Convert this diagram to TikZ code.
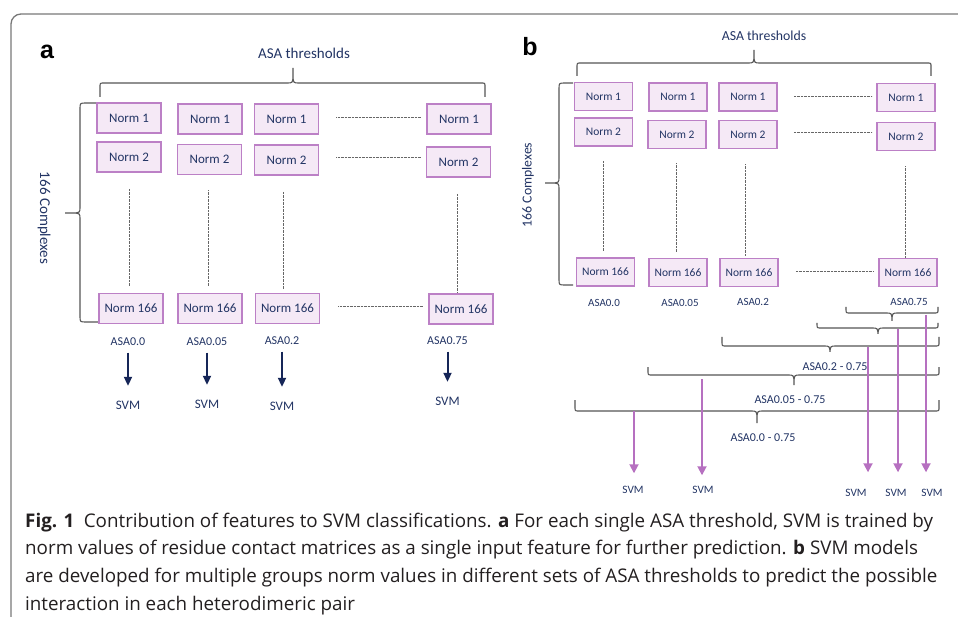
\documentclass[tikz,border=0pt]{standalone}
\usepackage{fontspec}
\setmainfont{Carlito}
\newfontfamily\lblfont{Liberation Sans}
\newfontfamily\capfont{Open Sans}
\usetikzlibrary{arrows.meta,calc}
\definecolor{txt}{RGB}{34,52,100}
\definecolor{boxedge}{RGB}{188,128,198}
\definecolor{boxfill}{RGB}{245,233,246}
\definecolor{navy}{RGB}{22,38,88}
\definecolor{pinkarr}{RGB}{182,112,192}
\definecolor{bracegray}{RGB}{85,85,85}
\definecolor{framegray}{RGB}{120,120,120}
\definecolor{captxt}{RGB}{35,31,32}
% #1 x1, #2 x2, #3 y, #4 yend, #5 xtip, #6 ytip, #7 direction of tip (+1 down, -1 up)
\newcommand\myhbrace[7]{%
 \draw[brc] (#1,#4) -- (#1,{#3-4*(#7)}) .. controls (#1,#3) .. ({#1+4},#3) -- ({#5-5},#3) .. controls ({#5-1},#3) and (#5,{#3+1*(#7)}) .. (#5,{#3+4*(#7)}) -- (#5,#6);
 \draw[brc] (#5,{#3+4*(#7)}) .. controls (#5,{#3+1*(#7)}) and ({#5+1},#3) .. ({#5+5},#3) -- ({#2-4},#3) .. controls (#2,#3) .. (#2,{#3-4*(#7)}) -- (#2,#4);}
% #1 y1, #2 y2, #3 x, #4 xend, #5 ytip, #6 xtip, #7 direction of tip (+1 right, -1 left)
\newcommand\myvbrace[7]{%
 \draw[brc] (#4,#1) -- ({#3-6*(#7)},#1) .. controls (#3,#1) .. (#3,{#1+6}) -- (#3,{#5-5}) .. controls (#3,{#5-1}) and ({#3+1*(#7)},#5) .. ({#3+4*(#7)},#5) -- (#6,#5);
 \draw[brc] ({#3+4*(#7)},#5) .. controls ({#3+1*(#7)},#5) and (#3,{#5+1}) .. (#3,{#5+5}) -- (#3,{#2-6}) .. controls (#3,#2) .. ({#3-6*(#7)},#2) -- (#4,#2);}
\begin{document}
\begin{tikzpicture}[x=1pt,y=-1pt,
 normA/.style={draw=boxedge, fill=boxfill, line width=1.6pt, minimum width=64pt, minimum height=30pt, inner sep=0pt, text=txt, font=\fontsize{13}{13}\selectfont},
 normB/.style={normA, minimum width=58pt, minimum height=28pt, font=\fontsize{11.5}{11.5}\selectfont},
 brc/.style={draw=bracegray, line width=1.1pt},
 dots/.style={draw=black!60, line width=0.9pt, dash pattern=on 0.7pt off 0.7pt},
 head/.style={text=txt, inner sep=0pt},
 lblA/.style={text=txt, inner sep=0pt, text height=7pt, text depth=0pt, font=\fontsize{12}{12}\selectfont},
 svmA/.style={text=txt, inner sep=0pt, text height=8pt, text depth=0pt, font=\fontsize{13}{13}\selectfont},
 lblB/.style={text=txt, inner sep=0pt, text height=7pt, text depth=0pt, font=\fontsize{11}{11}\selectfont},
 rangeB/.style={text=txt, inner sep=0pt, font=\fontsize{12}{12}\selectfont},
 svmB/.style={text=txt, inner sep=0pt, text height=7pt, text depth=0pt, font=\fontsize{11.3}{11.3}\selectfont},
 navyarrow/.style={draw=navy, line width=2pt, -{Triangle[length=9pt,width=8pt]}, shorten <=7pt, shorten >=15pt},
 pinkarrow/.style={draw=pinkarr, line width=1.8pt, -{Triangle[length=9pt,width=9pt]}},
 panel/.style={inner sep=0pt, font=\lblfont\bfseries\fontsize{25}{25}\selectfont},
 capline/.style={anchor=base west, inner sep=0pt, text=captxt, font=\capfont\fontsize{18.8}{22}\selectfont}
]
\useasboundingbox (0,0) rectangle (958,617);
% frame
\draw[framegray, line width=1.3pt, rounded corners=10pt] (11,620) -- (11,14) -- (962,14);

% ================= panel a =================
\node[panel] (pa) at (47,52) {a};
\node[head, font=\fontsize{15}{15}\selectfont] (ta) at (304,53) {ASA thresholds};
\myhbrace{100}{485}{83}{97}{293}{68}{-1}
\myvbrace{103}{322}{80}{98}{213}{65}{-1}
\node[head, rotate=-90, font=\fontsize{15}{15}\selectfont] (ca) at (44,218) {166 Complexes};

\node[normA] (a11) at (129,118) {Norm 1};
\node[normA] (a12) at (129,157) {Norm 2};
\node[normA] (a1n) at (131,308.5) {Norm 166};
\node[normA] (a21) at (210,119) {Norm 1};
\node[normA] (a22) at (209.5,159.5) {Norm 2};
\node[normA] (a2n) at (210,308.5) {Norm 166};
\node[normA] (a31) at (286.5,119) {Norm 1};
\node[normA] (a32) at (286.5,160) {Norm 2};
\node[normA] (a3n) at (287.5,308.5) {Norm 166};
\node[normA] (a41) at (459,119) {Norm 1};
\node[normA] (a42) at (458.5,162) {Norm 2};
\node[normA] (a4n) at (461,309) {Norm 166};

\draw[dots, shorten <=17pt, shorten >=5pt] (a31.east |- 0,117) -- (a41.west |- 0,117);
\draw[dots, shorten <=17pt, shorten >=5pt] (a32.east |- 0,157) -- (a42.west |- 0,157);
\draw[dots, shorten <=18pt, shorten >=5pt] (a3n.east |- 0,306) -- (a4n.west |- 0,306);
\draw[dots, shorten <=16pt, shorten >=7pt] (a12.south) -- (a12.south |- a1n.north);
\draw[dots, shorten <=15pt, shorten >=7pt] (a22.south -| 208,0) -- (a2n.north -| 208,0);
\draw[dots, shorten <=16pt, shorten >=4pt] (a32.south -| 283,0) -- (a3n.north -| 283,0);
\draw[dots, shorten <=16pt, shorten >=1pt] (a42.south -| 457,0) -- (a4n.north -| 457,0);

\node[lblA] (la1) at (128,342) {ASA0.0};
\node[lblA] (la2) at (207,342) {ASA0.05};
\node[lblA] (la3) at (282,341) {ASA0.2};
\node[lblA] (la4) at (447.5,341) {ASA0.75};
\node[svmA] (sa1) at (128,405) {SVM};
\node[svmA] (sa2) at (207,404) {SVM};
\node[svmA] (sa3) at (282,406) {SVM};
\node[svmA] (sa4) at (447.5,401) {SVM};
\draw[navyarrow] (la1) -- (sa1);
\draw[navyarrow] (la2) -- (sa2);
\draw[navyarrow] (la3) -- (sa3);
\draw[navyarrow] (la4) -- (sa4);

% ================= panel b =================
\node[panel] (pb) at (530,47) {b};
\node[head, font=\fontsize{13.8}{13.8}\selectfont] (tb) at (764,36) {ASA thresholds};
\myhbrace{577}{931}{63}{76}{754}{50}{-1}
\myvbrace{83}{285}{559}{573}{183}{545}{-1}
\node[head, rotate=90, font=\fontsize{13.8}{13.8}\selectfont] (cb) at (528,185) {166 Complexes};

\node[normB] (b11) at (603.5,96.5) {Norm 1};
\node[normB] (b12) at (603.5,132) {Norm 2};
\node[normB] (b1n) at (605.5,272) {Norm 166};
\node[normB] (b21) at (678,97) {Norm 1};
\node[normB] (b22) at (677,134.5) {Norm 2};
\node[normB] (b2n) at (678,272.5) {Norm 166};
\node[normB] (b31) at (748,97) {Norm 1};
\node[normB] (b32) at (748,134.5) {Norm 2};
\node[normB] (b3n) at (749,272.5) {Norm 166};
\node[normB] (b41) at (906,97.5) {Norm 1};
\node[normB] (b42) at (906,136.5) {Norm 2};
\node[normB] (b4n) at (908,272.5) {Norm 166};

\draw[dots, shorten <=16pt, shorten >=4pt] (b31.east |- 0,96) -- (b41.west |- 0,96);
\draw[dots, shorten <=16pt, shorten >=4pt] (b32.east |- 0,132) -- (b42.west |- 0,132);
\draw[dots, shorten <=17pt, shorten >=5pt] (b3n.east |- 0,271) -- (b4n.west |- 0,271);
\draw[dots, shorten <=14pt, shorten >=6pt] (b12.south) -- (b12.south |- b1n.north);
\draw[dots, shorten <=14pt, shorten >=5pt] (b22.south -| 676,0) -- (b2n.north -| 676,0);
\draw[dots, shorten <=15pt, shorten >=2pt] (b32.south -| 745,0) -- (b3n.north -| 745,0);
\draw[dots, shorten <=15pt, shorten >=0pt] (b42.south -| 905,0) -- (b4n.north -| 905,0);

\node[lblB] (lb1) at (604,303) {ASA0.0};
\node[lblB] (lb2) at (680,303) {ASA0.05};
\node[lblB] (lb3) at (753,302) {ASA0.2};
\node[lblB] (lb4) at (909,302) {ASA0.75};

\myhbrace{846}{938}{313}{307}{892}{321}{1}
\myhbrace{817}{938}{328}{323}{878}{334}{1}
\myhbrace{722}{939}{346}{337}{830}{352}{1}
\myhbrace{648}{939}{375}{367}{794}{385}{1}
\myhbrace{575}{939}{411}{400}{757}{423}{1}

\node[rangeB] (r2) at (835,367) {ASA0.2 - 0.75};
\node[rangeB] (r1) at (790,400) {ASA0.05 - 0.75};
\node[rangeB] (r0) at (763,438) {ASA0.0 - 0.75};

\node[svmB] (sb1) at (633,490) {SVM};
\node[svmB] (sb2) at (703,490) {SVM};
\node[svmB] (sb3) at (856,493) {SVM};
\node[svmB] (sb4) at (896,493) {SVM};
\node[svmB] (sb5) at (932,493) {SVM};

\coordinate (p1) at (634,411);
\coordinate (p2) at (702,379);
\coordinate (p3) at (868,347);
\coordinate (p4) at (898,329);
\coordinate (p5) at (926,315);
\draw[pinkarrow, shorten >=13pt] (p1) -- (p1 |- sb1.north);
\draw[pinkarrow, shorten >=11pt] (p2) -- (p2 |- sb2.north);
\draw[pinkarrow, shorten >=17pt] (p3) -- (p3 |- sb3.north);
\draw[pinkarrow, shorten >=17pt] (p4) -- (p4 |- sb4.north);
\draw[pinkarrow, shorten >=17pt] (p5) -- (p5 |- sb5.north);

% ================= caption =================
\node[capline] (c1) at (25,527) {\textbf{Fig. 1}\hspace{0.5em}Contribution of features to SVM classifications. \textbf{a} For each single ASA threshold, SVM is trained by};
\node[capline] (c2) at (25,554.7) {norm values of residue contact matrices as a single input feature for further prediction. \textbf{b} SVM models};
\node[capline] (c3) at (25,582.4) {are developed for multiple groups norm values in different sets of ASA thresholds to predict the possible};
\node[capline] (c4) at (25,610) {interaction in each heterodimeric pair};
\end{tikzpicture}
\end{document}
